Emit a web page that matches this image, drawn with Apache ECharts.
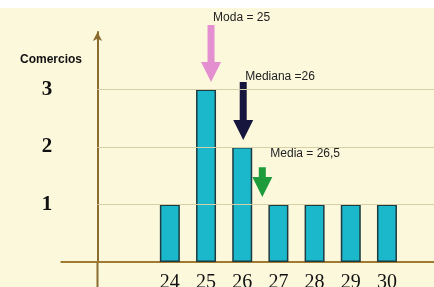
<!DOCTYPE html>
<html>
<head>
<meta charset="utf-8">
<script src="https://cdn.jsdelivr.net/npm/echarts@6/dist/echarts.min.js"></script>
<style>
  html, body { margin: 0; padding: 0; background: #ffffff; overflow: hidden; width: 434px; height: 287px; }
  #chart { position: absolute; left: 0; top: 8px; width: 434px; height: 279px; }
</style>
</head>
<body>
<div id="chart"></div>
<script>
  // edades en el eje x, comercios en el eje y
  const origen = 22
  const edades = [24, 25, 26, 27, 28, 29, 30]
  const comercios = [1, 3, 2, 1, 1, 1, 1]
  const yTicks = [1, 2, 3]
  // flechas: moda, mediana, media
  const notas = ['Moda = 25', 'Mediana =26', 'Media = 26,5']
  const notaX = [25, 26, 26.5]
  const flechaTop = [4.12, 3.13, 1.65]
  const flechaTip = [3.13, 2.12, 1.13]

  const flechaColor = ['#e48fd0', '#15153d', '#1e9c3c']
  const flechaDx = [5, 1, 2]
  const textoOff = [[2, -7], [2, -5], [8, -13]]
  const xMax = 9.3
  const ejeColor = '#8b6b2e'

  const chart = echarts.init(document.getElementById('chart'))

  const option = {
    backgroundColor: '#fcf8dc',
    animation: false,
    title: {
      text: 'Comercios',
      left: 15,
      top: 41,
      textStyle: { fontFamily: 'Liberation Sans', fontWeight: 'bold', fontSize: 12, color: '#111' }
    },
    grid: { left: 61.3, right: 0, top: 24, bottom: 25, outerBoundsMode: 'none' },
    xAxis: {
      type: 'value',
      min: -1,
      max: xMax,
      interval: 1,
      splitLine: { show: false },
      axisTick: { show: false },
      axisLine: { lineStyle: { color: '#a07a32', width: 2 } },
      axisLabel: {
        margin: 11,
        fontFamily: 'Liberation Serif',
        fontSize: 20,
        color: '#111',
        showMaxLabel: false,
        hideOverlap: false,
        formatter: v => edades.includes(v + origen) ? String(v + origen) : ''
      }
    },
    yAxis: {
      type: 'value',
      min: 0,
      max: 4,
      interval: 1,
      splitLine: { show: false },
      axisTick: { show: false },
      axisLine: {
        onZero: true,
        symbol: ['none', 'arrow'],
        symbolSize: [7, 9],
        lineStyle: { color: ejeColor, width: 2 }
      },
      axisLabel: {
        margin: 9,
        fontFamily: 'Liberation Serif',
        fontWeight: 'bold',
        fontSize: 21,
        color: '#111',
        formatter: v => yTicks.includes(v) ? String(v) : ''
      }
    },
    series: [
      {
        type: 'bar',
        barWidth: 20,
        data: edades.map((e, i) => [e - origen, comercios[i]]),
        itemStyle: { color: '#1bb8cc', borderColor: '#1d3b40', borderWidth: 1.5 },
        markLine: {
          silent: true,
          symbol: 'none',
          label: { show: false },
          lineStyle: { color: '#d6cfa6', width: 1, type: 'solid' },
          data: yTicks.map(v => [{ coord: [0, v] }, { coord: [xMax, v] }])
        }
      },
      {
        // el eje y sigue un poco por debajo del origen
        type: 'custom',
        clip: false,
        silent: true,
        z: 5,
        data: [[0, 0]],
        renderItem: (params, api) => {
          const p = api.coord([api.value(0), api.value(1)])
          return {
            type: 'line',
            shape: { x1: p[0], y1: p[1], x2: p[0], y2: p[1] + 40 },
            style: { stroke: ejeColor, lineWidth: 2 }
          }
        }
      },
      {
        type: 'custom',
        clip: false,
        data: notaX.map((x, i) => [x - origen, flechaTop[i], flechaTip[i]]),
        encode: { x: 0, y: [1, 2] },
        renderItem: (params, api) => {
          const i = params.dataIndex
          const top = api.coord([api.value(0), api.value(1)])
          const tip = api.coord([api.value(0), api.value(2)])
          const cx = top[0] + flechaDx[i]
          const hl = 20, sw = 3.5, hw = 10
          return {
            type: 'group',
            children: [
              {
                type: 'polygon',
                shape: {
                  points: [
                    [cx - sw, top[1]], [cx + sw, top[1]], [cx + sw, tip[1] - hl],
                    [cx + hw, tip[1] - hl], [cx, tip[1]], [cx - hw, tip[1] - hl],
                    [cx - sw, tip[1] - hl]
                  ]
                },
                style: { fill: flechaColor[i] }
              },
              {
                type: 'text',
                x: cx + textoOff[i][0],
                y: top[1] + textoOff[i][1],
                style: {
                  text: notas[i],
                  fill: '#222',
                  font: '12px "Liberation Sans"',
                  textAlign: 'left',
                  textVerticalAlign: 'middle'
                }
              }
            ]
          }
        }
      }
    ]
  }

  chart.setOption(option)
  window.addEventListener('resize', () => chart.resize())
</script>
</body>
</html>
